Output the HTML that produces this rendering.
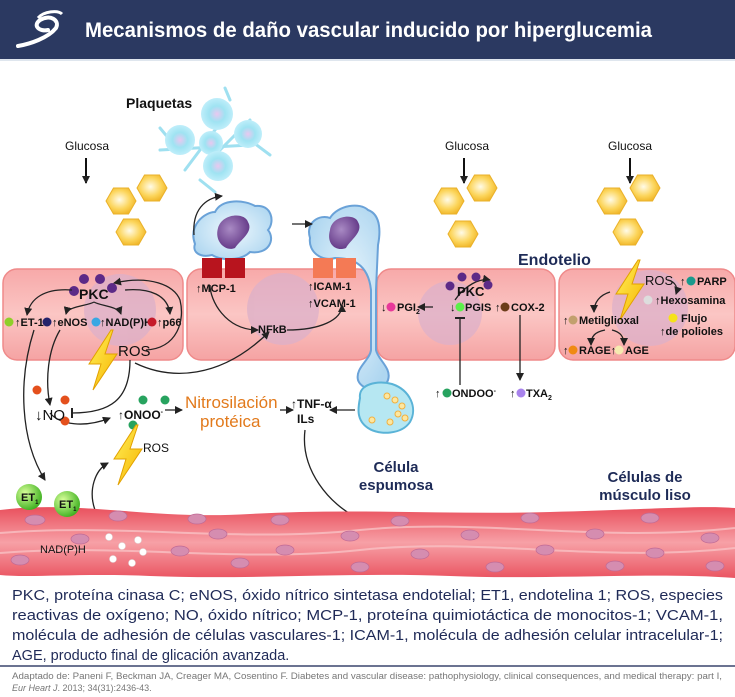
<!DOCTYPE html>
<html><head><meta charset="utf-8"><style>
html,body{margin:0;padding:0;background:#fff}
svg{display:block}
text{font-family:"Liberation Sans",sans-serif}
</style></head><body>
<svg width="735" height="697" viewBox="0 0 735 697" xmlns="http://www.w3.org/2000/svg">
<defs>
<marker id="a" markerWidth="8" markerHeight="8" refX="7" refY="4" orient="auto" markerUnits="userSpaceOnUse"><path d="M0,0 L8,4 L0,8 Z" fill="#222"/></marker>
<marker id="t" markerWidth="2" markerHeight="10" refX="1" refY="5" orient="auto" markerUnits="userSpaceOnUse"><rect x="0" y="0" width="2" height="10" fill="#222"/></marker>
<linearGradient id="cell" x1="0" y1="0" x2="0" y2="1"><stop offset="0" stop-color="#f7a9a9"/><stop offset=".5" stop-color="#fbc6c4"/><stop offset="1" stop-color="#f5a3a3"/></linearGradient>
<radialGradient id="hex" cx=".45" cy=".45" r=".6"><stop offset="0" stop-color="#fffbe8"/><stop offset=".6" stop-color="#fcd55b"/><stop offset="1" stop-color="#efb324"/></radialGradient>
<radialGradient id="blue" cx=".5" cy=".5" r=".6"><stop offset="0" stop-color="#eef8fd"/><stop offset="1" stop-color="#aed6f0"/></radialGradient>
<radialGradient id="plt" cx=".5" cy=".5" r=".5"><stop offset="0" stop-color="#e9c8f0"/><stop offset=".5" stop-color="#9fe3f2"/><stop offset="1" stop-color="#bfeefa"/></radialGradient>
<radialGradient id="nuc" cx=".4" cy=".4" r=".7"><stop offset="0" stop-color="#a98ac4"/><stop offset="1" stop-color="#5b2f80"/></radialGradient>
<radialGradient id="et" cx=".35" cy=".35" r=".7"><stop offset="0" stop-color="#d9ff9a"/><stop offset="1" stop-color="#3db01f"/></radialGradient>
<linearGradient id="mus" x1="0" y1="0" x2="0" y2="1"><stop offset="0" stop-color="#e9505d"/><stop offset=".5" stop-color="#f7a0a6"/><stop offset="1" stop-color="#ea5562"/></linearGradient>
<linearGradient id="bolt" x1="0" y1="0" x2="1" y2="1"><stop offset="0" stop-color="#fff15a"/><stop offset="1" stop-color="#f6b400"/></linearGradient>
<g id="hx"><polygon points="-15,0 -7.5,-13 7.5,-13 15,0 7.5,13 -7.5,13" fill="url(#hex)" stroke="#eab12a" stroke-width="1"/></g>
<g id="bl"><polygon points="8,-30 -14,4 -2,4 -10,30 14,-6 2,-6 10,-30" fill="url(#bolt)" stroke="#e2a100" stroke-width="1"/></g>
</defs>

<rect x="0" y="0" width="735" height="59" fill="#2b3961"/>
<rect x="0" y="59" width="735" height="2" fill="#dfe6ee"/>
<path d="M18,46 C30,44 48,38 56,28 C60,20 50,14 40,20 C32,26 40,32 48,30" fill="none" stroke="#fff" stroke-width="4" stroke-linecap="round"/>
<path d="M38,18 C44,11 58,10 62,14" fill="none" stroke="#fff" stroke-width="3"/>
<text x="85" y="37" fill="#fff" font-size="21" font-weight="bold" textLength="567" lengthAdjust="spacingAndGlyphs">Mecanismos de daño vascular inducido por hiperglucemia</text>

<g font-size="12" fill="#111">
<text x="65" y="150">Glucosa</text><text x="445" y="150">Glucosa</text><text x="608" y="150">Glucosa</text></g>
<g stroke="#111" stroke-width="2" marker-end="url(#a)"><line x1="86" y1="158" x2="86" y2="183"/><line x1="464" y1="158" x2="464" y2="183"/><line x1="630" y1="158" x2="630" y2="183"/></g>
<use href="#hx" x="121" y="201"/><use href="#hx" x="152" y="188"/><use href="#hx" x="131" y="232"/>
<use href="#hx" x="449" y="201"/><use href="#hx" x="482" y="188"/><use href="#hx" x="463" y="234"/>
<use href="#hx" x="612" y="201"/><use href="#hx" x="645" y="188"/><use href="#hx" x="628" y="232"/>

<text x="126" y="108" font-size="14" font-weight="bold" fill="#111">Plaquetas</text>
<g stroke="#9fe0f0" stroke-width="3" fill="none" stroke-linecap="round">
<path d="M160,150 L250,145 M185,170 L230,110 M215,155 L250,120 M200,180 L215,192 M250,140 L270,155 M170,140 L160,128 M230,100 L225,88"/></g>
<circle cx="180" cy="140" r="15" fill="url(#plt)"/><circle cx="217" cy="114" r="16" fill="url(#plt)"/><circle cx="211" cy="143" r="12" fill="url(#plt)"/><circle cx="248" cy="134" r="14" fill="url(#plt)"/><circle cx="218" cy="166" r="15" fill="url(#plt)"/>

<g stroke="#ef8a8a" stroke-width="1.5" fill="url(#cell)">
<rect x="3" y="269" width="180" height="91" rx="14"/>
<rect x="187" y="269" width="185" height="91" rx="14"/>
<rect x="377" y="269" width="178" height="91" rx="14"/>
<rect x="559" y="269" width="176" height="91" rx="14"/></g>
<g fill="#dcb0c9" opacity=".75"><circle cx="120" cy="310" r="36"/><circle cx="283" cy="309" r="36"/><circle cx="450" cy="313" r="32"/><circle cx="650" cy="308" r="38"/></g>

<path d="M195,244 C188,225 205,212 215,212 C222,198 245,200 255,206 C272,204 275,222 268,230 C276,240 268,255 250,252 C240,262 220,260 212,255 C200,258 192,252 195,244 Z" fill="url(#blue)" stroke="#6aa2d8" stroke-width="2"/>
<path d="M218,228 C222,213 245,212 248,222 C254,232 240,240 235,248 C226,252 214,242 218,228 Z" fill="url(#nuc)"/>
<path d="M310,238 C305,222 320,214 330,218 C338,205 360,202 368,210 C382,215 380,235 378,245 L376,290 L376,350 C378,360 392,368 388,380 C384,392 362,392 358,380 C355,368 370,360 371,350 L371,290 C368,262 350,258 335,258 C322,262 308,252 310,238 Z" fill="url(#blue)" stroke="#6aa2d8" stroke-width="2"/>
<path d="M330,230 C332,215 355,213 358,222 C364,232 350,240 346,248 C336,252 326,244 330,230 Z" fill="url(#nuc)"/>
<g fill="#b8141e"><rect x="202" y="258" width="20" height="20"/><rect x="225" y="258" width="20" height="20"/></g>
<g fill="#f47a55"><rect x="313" y="258" width="20" height="20"/><rect x="336" y="258" width="20" height="20"/></g>
<path d="M194,235 C192,210 205,198 222,196" fill="none" stroke="#222" stroke-width="1.3" marker-end="url(#a)"/>
<line x1="292" y1="224" x2="312" y2="224" stroke="#222" stroke-width="1.3" marker-end="url(#a)"/>

<path d="M360,398 C358,384 378,380 392,384 C410,390 418,408 410,422 C402,434 380,436 368,428 C356,420 358,408 360,398 Z" fill="#b6e7f2" stroke="#5ab3d7" stroke-width="2"/>
<g fill="#fde7a0" stroke="#f0b040" stroke-width="1"><circle cx="387" cy="396" r="3"/><circle cx="395" cy="400" r="3"/><circle cx="402" cy="406" r="3"/><circle cx="398" cy="414" r="3"/><circle cx="372" cy="420" r="3"/><circle cx="390" cy="422" r="3"/><circle cx="405" cy="418" r="3"/></g>
<text x="396" y="472" font-size="15" font-weight="bold" fill="#1e2b57" text-anchor="middle">Célula</text>
<text x="396" y="490" font-size="15" font-weight="bold" fill="#1e2b57" text-anchor="middle">espumosa</text>

<g fill="#5c2a87"><circle cx="84" cy="279" r="5"/><circle cx="100" cy="279" r="5"/><circle cx="74" cy="291" r="5"/><circle cx="112" cy="288" r="5"/></g>
<text x="79" y="299" font-size="14" font-weight="bold" fill="#111">PKC</text>
<g font-size="11" font-weight="bold" fill="#111">
<text x="15" y="326">↑ET-1</text><text x="52" y="326">↑eNOS</text><text x="100" y="326">↑NAD(P)H</text><text x="157" y="326">↑p66</text>
<text x="196" y="292">↑MCP-1</text><text x="308" y="290">↑ICAM-1</text><text x="308" y="307">↑VCAM-1</text><text x="258" y="333">NFkB</text>
</g>
<circle cx="9" cy="322" r="4.5" fill="#8fcf2a"/><circle cx="47" cy="322" r="4.5" fill="#24236b"/><circle cx="96" cy="322" r="4.5" fill="#38a7e3"/><circle cx="152" cy="322" r="4.5" fill="#c61b2a"/>
<text x="118" y="356" font-size="15" fill="#111">ROS</text>
<use href="#bl" x="103" y="360"/>
<g fill="none" stroke="#222" stroke-width="1.3" marker-end="url(#a)">
<path d="M72,290 C45,288 30,298 27,315"/>
<path d="M125,290 C150,288 168,295 170,314"/>
<path d="M94,302 C88,306 68,306 66,314"/>
<path d="M94,302 C100,306 118,306 121,314"/>
<path d="M146,350 C178,348 185,320 180,300 C174,285 150,275 114,283"/>
<path d="M210,285 C210,300 225,330 258,330"/>
<path d="M287,330 C320,330 342,320 342,305"/>
<path d="M135,363 C170,380 220,380 269,332"/>
<path d="M60,330 C48,350 45,380 50,405"/>
<path d="M34,330 C18,380 20,440 45,480"/>
<path d="M50,413 C60,425 85,428 110,418"/>
<path d="M165,410 L182,410"/><path d="M280,410 L293,410"/>
<path d="M355,410 L330,410"/>
<path d="M305,430 C300,470 330,505 358,518"/>
<path d="M95,510 C88,490 95,470 108,463"/>
<path d="M505,300 C495,285 480,278 470,280" transform="scale(-1,1) translate(-960,0)"/>
<path d="M433,307 L418,307"/>
<path d="M520,315 L520,380"/>
<path d="M610,292 C600,295 594,302 594,312"/>
<path d="M605,330 C595,332 591,336 591,345"/>
<path d="M612,330 C620,332 624,336 624,345"/>
</g>
<path d="M130,360 C130,400 110,413 72,413" fill="none" stroke="#222" stroke-width="1.3" marker-end="url(#t)"/>
<path d="M460,318 L460,385" fill="none" stroke="#222" stroke-width="1.3" marker-start="url(#t)"/>

<g fill="#e4501d"><circle cx="37" cy="390" r="4.5"/><circle cx="65" cy="400" r="4.5"/><circle cx="65" cy="421" r="4.5"/></g>
<g fill="#27a35f"><circle cx="143" cy="400" r="4.5"/><circle cx="165" cy="400" r="4.5"/><circle cx="133" cy="425" r="4.5"/></g>
<text x="35" y="420" font-size="15" fill="#111">↓NO</text>
<text x="118" y="419" font-size="12" font-weight="bold" fill="#111">↑ONOO<tspan font-size="7" dy="-5">-</tspan></text>
<text x="185" y="408" font-size="17" fill="#e27a1c">Nitrosilación</text>
<text x="200" y="427" font-size="17" fill="#e27a1c">protéica</text>
<text x="291" y="408" font-size="12" font-weight="bold" fill="#111">↑TNF-α</text>
<text x="297" y="423" font-size="12" font-weight="bold" fill="#111">ILs</text>
<use href="#bl" x="128" y="455"/>
<text x="143" y="452" font-size="12" fill="#111">ROS</text>

<g fill="#5c2a87"><circle cx="462" cy="277" r="4.5"/><circle cx="476" cy="277" r="4.5"/><circle cx="450" cy="286" r="4.5"/><circle cx="488" cy="285" r="4.5"/></g>
<text x="457" y="296" font-size="13" font-weight="bold" fill="#111">PKC</text>
<g font-size="11" font-weight="bold" fill="#111">
<text x="381" y="311">↓</text><text x="397" y="311">PGI<tspan font-size="7" dy="3">2</tspan></text>
<text x="450" y="311">↓</text><text x="465" y="311">PGIS</text><text x="495" y="311">↑</text><text x="511" y="311">COX-2</text>
<text x="435" y="397">↑</text><text x="452" y="397">ONDOO<tspan font-size="7" dy="-4">-</tspan></text>
<text x="510" y="397">↑</text><text x="526" y="397">TXA<tspan font-size="7" dy="3">2</tspan></text>
</g>
<circle cx="391" cy="307" r="4.5" fill="#e8389a"/><circle cx="460" cy="307" r="4.5" fill="#5bf04a"/><circle cx="505" cy="307" r="4.5" fill="#6b3d1a"/>
<circle cx="447" cy="393" r="4.5" fill="#27a35f"/><circle cx="521" cy="393" r="4.5" fill="#a883ec"/>

<text x="518" y="265" font-size="16" font-weight="bold" fill="#1e2b57">Endotelio</text>
<use href="#bl" x="630" y="290"/>
<text x="645" y="285" font-size="13" fill="#111">ROS</text>
<g font-size="11" font-weight="bold" fill="#111">
<text x="680" y="285">↑</text><text x="697" y="285">PARP</text>
<text x="655" y="304">↑Hexosamina</text>
<text x="681" y="322">Flujo</text><text x="660" y="335">↑de polioles</text>
<text x="563" y="324">↑</text><text x="579" y="324">Metilglioxal</text>
<text x="563" y="354">↑</text><text x="579" y="354">RAGE↑</text><text x="625" y="354">AGE</text>
</g>
<circle cx="691" cy="281" r="4.5" fill="#1a9a8c"/><circle cx="648" cy="300" r="4.5" fill="#ddd"/><circle cx="673" cy="318" r="4.5" fill="#f5e21a"/>
<circle cx="573" cy="320" r="4.5" fill="#c2a06e"/><circle cx="573" cy="350" r="4.5" fill="#f08a12"/><circle cx="619" cy="350" r="4.5" fill="#f6eab0"/>
<path d="M668,280 C676,282 678,288 676,294" fill="none" stroke="#222" stroke-width="1.2" marker-end="url(#a)"/>

<text x="645" y="482" font-size="15" font-weight="bold" fill="#1e2b57" text-anchor="middle">Células de</text>
<text x="645" y="500" font-size="15" font-weight="bold" fill="#1e2b57" text-anchor="middle">músculo liso</text>
<path d="M0,510 C80,500 150,520 250,514 C350,508 450,515 550,512 C640,510 700,505 735,508 L735,578 C650,572 550,580 450,576 C350,572 250,580 150,576 C80,573 30,578 0,575 Z" fill="url(#mus)"/>
<g fill="none" stroke="#f9c1c4" stroke-width="2" opacity=".8">
<path d="M0,533 C120,523 240,543 360,530 C480,518 600,543 735,528"/>
<path d="M0,553 C120,543 240,563 360,550 C480,537 600,563 735,548"/>
</g>
<g fill="#d58db0" stroke="#c06a95" stroke-width=".7">
<ellipse cx="35" cy="520" rx="10" ry="5"/><ellipse cx="118" cy="516" rx="9" ry="5"/><ellipse cx="197" cy="519" rx="9" ry="5"/><ellipse cx="280" cy="520" rx="9" ry="5"/><ellipse cx="400" cy="521" rx="9" ry="5"/><ellipse cx="530" cy="518" rx="9" ry="5"/><ellipse cx="650" cy="518" rx="9" ry="5"/>
<ellipse cx="80" cy="539" rx="9" ry="5"/><ellipse cx="218" cy="534" rx="9" ry="5"/><ellipse cx="350" cy="536" rx="9" ry="5"/><ellipse cx="470" cy="535" rx="9" ry="5"/><ellipse cx="595" cy="534" rx="9" ry="5"/><ellipse cx="710" cy="538" rx="9" ry="5"/>
<ellipse cx="20" cy="560" rx="9" ry="5"/><ellipse cx="180" cy="551" rx="9" ry="5"/><ellipse cx="285" cy="550" rx="9" ry="5"/><ellipse cx="420" cy="554" rx="9" ry="5"/><ellipse cx="545" cy="550" rx="9" ry="5"/><ellipse cx="655" cy="553" rx="9" ry="5"/>
<ellipse cx="240" cy="563" rx="9" ry="5"/><ellipse cx="360" cy="567" rx="9" ry="5"/><ellipse cx="495" cy="567" rx="9" ry="5"/><ellipse cx="615" cy="566" rx="9" ry="5"/><ellipse cx="715" cy="566" rx="9" ry="5"/>
</g>
<circle cx="29" cy="497" r="13" fill="url(#et)"/><circle cx="67" cy="504" r="13" fill="url(#et)"/>
<text x="21" y="501" font-size="11" font-weight="bold" fill="#111">ET<tspan font-size="6" dy="3">1</tspan></text>
<text x="59" y="508" font-size="11" font-weight="bold" fill="#111">ET<tspan font-size="6" dy="3">1</tspan></text>
<text x="40" y="553" font-size="11" fill="#111">NAD(P)H</text>
<g fill="#fff" stroke="#ddd" stroke-width=".5"><circle cx="109" cy="537" r="3.5"/><circle cx="138" cy="540" r="3.5"/><circle cx="122" cy="546" r="3.5"/><circle cx="143" cy="552" r="3.5"/><circle cx="113" cy="559" r="3.5"/><circle cx="132" cy="563" r="3.5"/></g>

<g font-size="14.5" fill="#1f2a57">
<text x="12" y="600" textLength="711" lengthAdjust="spacingAndGlyphs">PKC, proteína cinasa C; eNOS, óxido nítrico sintetasa endotelial; ET1, endotelina 1; ROS, especies</text>
<text x="12" y="620" textLength="711" lengthAdjust="spacingAndGlyphs">reactivas de oxígeno; NO, óxido nítrico; MCP-1, proteína quimiotáctica de monocitos-1; VCAM-1,</text>
<text x="12" y="640" textLength="711" lengthAdjust="spacingAndGlyphs">molécula de adhesión de células vasculares-1; ICAM-1, molécula de adhesión celular intracelular-1;</text>
<text x="12" y="660">AGE, producto final de glicación avanzada.</text>
</g>
<rect x="0" y="665" width="735" height="2" fill="#6b7391"/>
<g font-size="9" fill="#777">
<text x="12" y="679" textLength="710" lengthAdjust="spacingAndGlyphs">Adaptado de: Paneni F, Beckman JA, Creager MA, Cosentino F. Diabetes and vascular disease: pathophysiology, clinical consequences, and medical therapy: part I,</text>
<text x="12" y="691"><tspan font-style="italic">Eur Heart J</tspan>. 2013; 34(31):2436-43.</text>
</g>
</svg>
</body></html>
